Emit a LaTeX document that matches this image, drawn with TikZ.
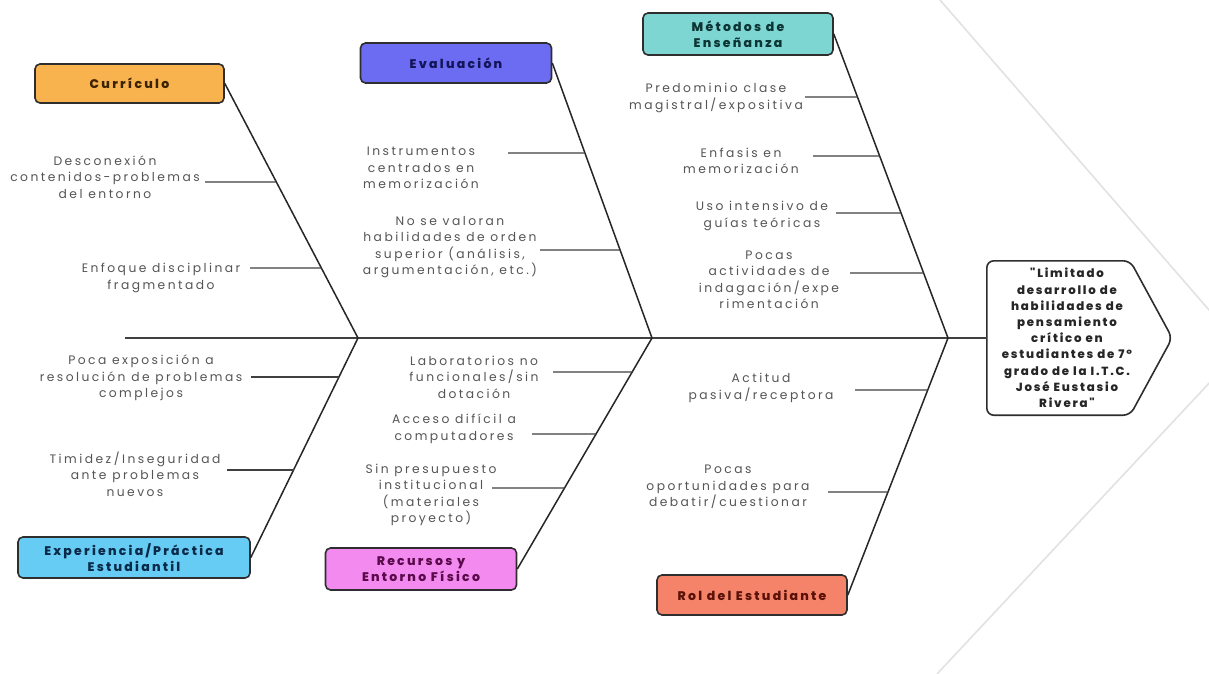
\documentclass[tikz,border=0pt]{standalone}
\usepackage{fontspec}
\setmainfont{Poppins}
\newfontfamily\lblfont{Poppins}[LetterSpace=20]
\newfontfamily\hdfont{Poppins ExtraBold}[LetterSpace=18]
\newfontfamily\headfont{Poppins ExtraBold}[LetterSpace=15]
\usetikzlibrary{calc}
\definecolor{cCur}{HTML}{F8B24E}
\definecolor{cEva}{HTML}{6B6CF2}
\definecolor{cMet}{HTML}{7DD6D2}
\definecolor{cExp}{HTML}{66CCF4}
\definecolor{cRec}{HTML}{F28AF0}
\definecolor{cRol}{HTML}{F4836A}
\definecolor{tCur}{HTML}{3B2200}
\definecolor{tEva}{HTML}{14145A}
\definecolor{tMet}{HTML}{0D3535}
\definecolor{tExp}{HTML}{0A2A4A}
\definecolor{tRec}{HTML}{5A0A4A}
\definecolor{tRol}{HTML}{5A1208}
\definecolor{lblgray}{HTML}{555555}
\definecolor{boxline}{HTML}{2E2E2E}
\definecolor{chevgray}{HTML}{E2E2E2}
\begin{document}
\begin{tikzpicture}[x=1pt,y=-1pt,
  cat/.style={draw=boxline, line width=1.6pt, rounded corners=5pt, align=center,
    font=\hdfont\fontsize{12.5}{15.5}\selectfont, inner sep=2pt},
  lbl/.style={font=\lblfont\fontsize{12.3}{16.5}\selectfont, text=lblgray, align=center, inner sep=0pt},
  rib/.style={line width=1.5pt, draw=black!85},
  twig/.style={line width=1.3pt, draw=black!75},
  spine/.style={line width=1.8pt, draw=black!75}]
\useasboundingbox (0,0) rectangle (1209,674);
\fill[white] (0,0) rectangle (1209,674);
\begin{scope}
  \clip (0,0) rectangle (1209,674);
  \draw[chevgray, line width=1.6pt] (940,0) -- (1242,348) -- (937,674);
\end{scope}

% category boxes
\node[cat, fill=cCur, text=tCur, minimum width=189pt, minimum height=39pt] (cur) at (129.5,83.5) {Currículo};
\node[cat, fill=cEva, text=tEva, minimum width=191pt, minimum height=40pt] (eva) at (456,63) {Evaluación};
\node[cat, fill=cMet, text=tMet, minimum width=190pt, minimum height=42pt] (met) at (738,34) {Métodos de\\Enseñanza};
\node[cat, fill=cExp, text=tExp, minimum width=232pt, minimum height=41pt] (exp) at (134,557.5) {Experiencia/Práctica\\Estudiantil};
\node[cat, fill=cRec, text=tRec, minimum width=191pt, minimum height=42pt] (rec) at (421,569) {Recursos y\\Entorno Físico};
\node[cat, fill=cRol, text=tRol, minimum width=190pt, minimum height=40pt] (rol) at (752,595) {Rol del Estudiante};

% head
\node[minimum width=143pt, minimum height=154pt, inner sep=0pt] (headbox) at (1058.5,338) {};
\draw[boxline, line width=1.6pt, rounded corners=7pt, fill=white]
  (headbox.north west) -- (headbox.north east) -- ($(headbox.east)+(42,0)$)
  -- (headbox.south east) -- (headbox.south west) -- cycle;
\node[font=\headfont\fontsize{11.8}{16.2}\selectfont, text=black!85, align=center, inner sep=0pt] (head) at (1067,338)
  {"Limitado\\desarrollo de\\habilidades de\\pensamiento\\crítico en\\estudiantes de 7°\\grado de la I.T.C.\\José Eustasio\\Rivera"};

% spine and junctions
\coordinate (tail) at (125,338);
\coordinate (j1) at (358,338);
\coordinate (j2) at (652,338);
\coordinate (j3) at (948,338);
\draw[spine] (tail) -- (headbox.west);
\draw[rib] (cur.east) -- (j1);
\draw[rib] (exp.east) -- (j1);
\draw[rib] (eva.east) -- (j2);
\draw[rib] (rec.east) -- (j2);
\draw[rib] (met.east) -- (j3);
\draw[rib] (rol.east) -- (j3);

% labels
\node[lbl] (c1) at (105,177) {Desconexión\\contenidos-problemas\\del entorno};
\node[lbl] (c2) at (161,278) {Enfoque disciplinar\\fragmentado};
\node[lbl] (e1) at (421,168) {Instrumentos\\centrados en\\memorización};
\node[lbl] (e2) at (450,247) {No se valoran\\habilidades de orden\\superior (análisis,\\argumentación, etc.)};
\node[lbl] (m1) at (716,98) {Predominio clase\\magistral/expositiva};
\node[lbl] (m2) at (741,161) {Enfasis en\\memorización};
\node[lbl] (m3) at (762,216) {Uso intensivo de\\guías teóricas};
\node[lbl] (m4) at (769,280) {Pocas\\actividades de\\indagación/expe\\rimentación};
\node[lbl] (x1) at (141,378) {Poca exposición a\\resolución de problemas\\complejos};
\node[lbl] (x2) at (135,474) {Timidez/Inseguridad\\ante problemas\\nuevos};
\node[lbl] (r1) at (474,377) {Laboratorios no\\funcionales/sin\\dotación};
\node[lbl] (r2) at (454,429) {Acceso difícil a\\computadores};
\node[lbl] (r3) at (431,495) {Sin presupuesto\\institucional\\(materiales\\proyecto)};
\node[lbl] (s1) at (761,388) {Actitud\\pasiva/receptora};
\node[lbl] (s2) at (728,487) {Pocas\\oportunidades para\\debatir/cuestionar};

% twigs
\draw[twig] (205,182) -- (intersection of cur.east--j1 and 0,182--1,182);
\draw[twig] (250,268) -- (intersection of cur.east--j1 and 0,268--1,268);
\draw[twig] (508,153) -- (intersection of eva.east--j2 and 0,153--1,153);
\draw[twig] (540,250) -- (intersection of eva.east--j2 and 0,250--1,250);
\draw[twig] (805,97) -- (intersection of met.east--j3 and 0,97--1,97);
\draw[twig] (813,156) -- (intersection of met.east--j3 and 0,156--1,156);
\draw[twig] (836,213) -- (intersection of met.east--j3 and 0,213--1,213);
\draw[twig] (850,273) -- (intersection of met.east--j3 and 0,273--1,273);
\draw[twig] (251,377) -- (intersection of exp.east--j1 and 0,377--1,377);
\draw[twig] (227,470) -- (intersection of exp.east--j1 and 0,470--1,470);
\draw[twig] (553,372) -- (intersection of rec.east--j2 and 0,372--1,372);
\draw[twig] (532,434) -- (intersection of rec.east--j2 and 0,434--1,434);
\draw[twig] (492,488) -- (intersection of rec.east--j2 and 0,488--1,488);
\draw[twig] (855,390) -- (intersection of rol.east--j3 and 0,390--1,390);
\draw[twig] (828,492) -- (intersection of rol.east--j3 and 0,492--1,492);
\end{tikzpicture}
\end{document}
